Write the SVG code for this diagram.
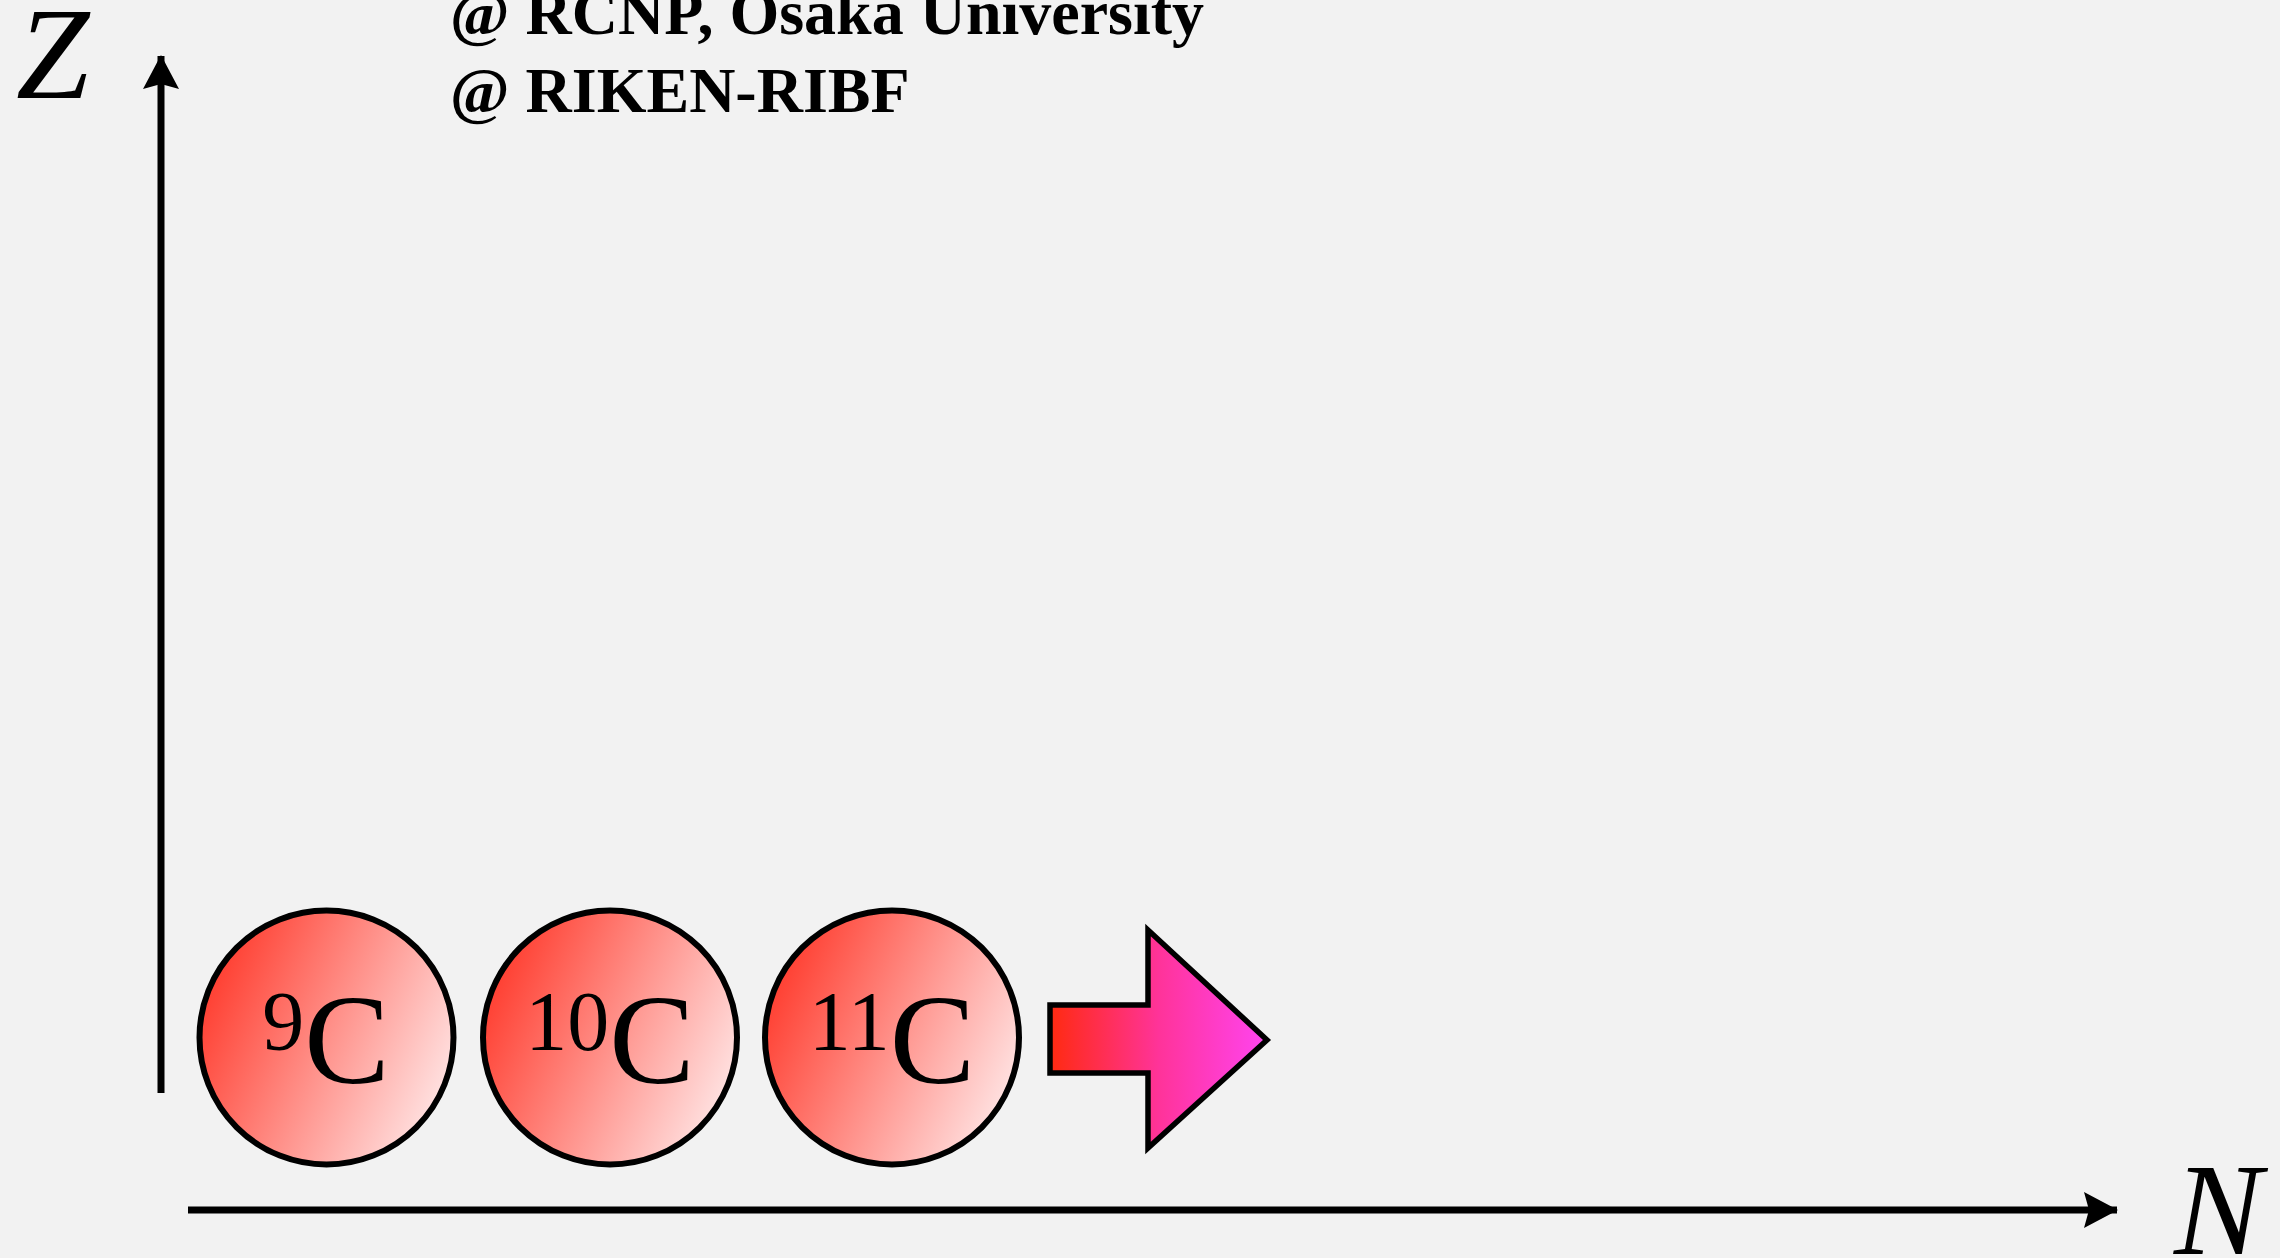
<svg xmlns="http://www.w3.org/2000/svg" width="2280" height="1258" viewBox="0 0 2280 1258">
<defs>
<linearGradient id="gC" x1="0" y1="0.3" x2="1" y2="0.75">
<stop offset="0" stop-color="#ff3a2c"/>
<stop offset="1" stop-color="#ffe9e9"/>
</linearGradient>
<linearGradient id="gA" x1="0" y1="0" x2="1" y2="0">
<stop offset="0" stop-color="#ff2a10"/>
<stop offset="0.5" stop-color="#ff3399"/>
<stop offset="1" stop-color="#ff44f0"/>
</linearGradient>
<marker id="ah" viewBox="0 0 34 36" refX="33" refY="18" markerWidth="34" markerHeight="36" markerUnits="userSpaceOnUse" orient="auto">
<path d="M0,0 L34,18 L0,36 L5,18 Z" fill="#000"/>
</marker>
<style>
.nuc{fill:url(#gC);stroke:#000;stroke-width:6}
.lab{font-family:"Liberation Serif","Times New Roman",serif;fill:#000}
.big{font-size:128px}
.sup{font-size:84px}
.ax{stroke:#000;stroke-width:7;fill:none}
.axl{font-family:"Liberation Serif","Times New Roman",serif;font-style:italic;font-size:132px;fill:#000}
.hdr{font-family:"Liberation Serif","Times New Roman",serif;font-weight:bold;font-size:64px;fill:#000}
</style>
</defs>
<rect width="2280" height="1258" fill="#f2f2f2"/>
<g id="header">
<text class="hdr" x="450" y="34">@ RCNP, Osaka University</text>
<text class="hdr" x="450" y="112">@ RIKEN-RIBF</text>
</g>
<g id="connectors">
<line class="ax" x1="161" y1="1093" x2="161" y2="56" marker-end="url(#ah)"/>
<line class="ax" x1="188" y1="1210" x2="2117" y2="1210" marker-end="url(#ah)"/>
</g>
<g id="axis-labels">
<text class="axl" x="16" y="98">Z</text>
<text class="axl" x="2174" y="1254">N</text>
</g>
<g id="C9">
<circle class="nuc" cx="326.5" cy="1037.5" r="127"/>
<text class="lab" x="326" y="1050" text-anchor="middle"><tspan class="sup">9</tspan><tspan class="big" dy="33">C</tspan></text>
</g>
<g id="C10">
<circle class="nuc" cx="610" cy="1037.5" r="127"/>
<text class="lab" x="610" y="1050" text-anchor="middle"><tspan class="sup">10</tspan><tspan class="big" dy="33">C</tspan></text>
</g>
<g id="C11">
<circle class="nuc" cx="892" cy="1037.5" r="127"/>
<text class="lab" x="892" y="1050" text-anchor="middle"><tspan class="sup">11</tspan><tspan class="big" dy="33">C</tspan></text>
</g>
<g id="arrow">
<polygon points="1050,1005 1148,1005 1148,930 1267,1040 1148,1148 1148,1073 1050,1073" fill="url(#gA)" stroke="#000" stroke-width="5.5" stroke-linejoin="miter"/>
</g>
</svg>
